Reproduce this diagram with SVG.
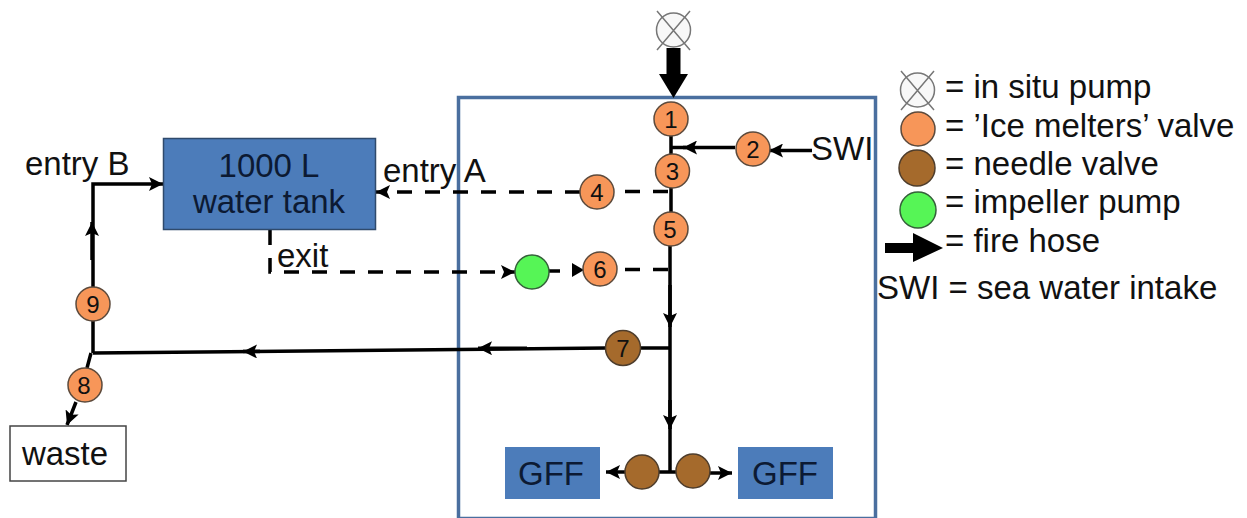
<svg xmlns="http://www.w3.org/2000/svg" width="1247" height="518" viewBox="0 0 1247 518">
<style>
text{font-family:"Liberation Sans",Arial,sans-serif;fill:#111;font-size:33px}
.n{font-size:24px;text-anchor:middle}
.c{text-anchor:middle}
.d{fill:#0c1a33}
.or{fill:#f79659;stroke:#5c4a3c;stroke-width:1.5}
.br{fill:#a56a2c;stroke:#4e3d2c;stroke-width:1.5}
.gr{fill:#56f556;stroke:#35603a;stroke-width:1.5}
.bl{fill:#4c7cba}
.pipe{fill:none;stroke:#000;stroke-width:3.5}
.dash{stroke-dasharray:15 13}
.pump{fill:#f8f8f8;stroke:#777;stroke-width:1.5}
.x{stroke:#777;stroke-width:1.5;fill:none}
</style>
<defs>
<marker id="a" markerUnits="userSpaceOnUse" markerWidth="16" markerHeight="14" refX="14" refY="7" orient="auto"><path d="M0 0L14 7L0 14L3 7Z" fill="#000"/></marker>
</defs>
<rect id="container" x="458.500" y="97.500" width="417" height="421" fill="none" stroke="#4a6f9f" stroke-width="3.500"/>
<g id="connectors">
<path d="M673.500 48V75" fill="none" stroke="#000" stroke-width="14"/>
<path d="M659 74H688L673.500 98Z" fill="#000"/>
<path class="pipe" d="M671 136V212M670 246V472"/>
<path class="pipe" d="M735 147.500H683" marker-end="url(#a)"/>
<path class="pipe" d="M812 150.500H769" marker-end="url(#a)"/>
<path class="pipe" d="M686 147.500H672"/>
<path class="pipe" d="M670 285V327" marker-end="url(#a)"/>
<path class="pipe" d="M670 400V429" marker-end="url(#a)"/>
<path class="pipe dash" d="M668 191.500H614"/>
<path class="pipe dash" d="M580 192H376" marker-end="url(#a)"/>
<path class="pipe dash" d="M270 230V272H515" marker-end="url(#a)"/>
<path class="pipe" d="M549 271H560"/>
<path d="M572 263L584 270L572 277Z" fill="#000"/>
<path class="pipe dash" d="M668 269.500H617"/>
<path class="pipe" d="M670 348H640"/>
<path class="pipe" d="M606 348L93 353"/>
<path class="pipe" d="M527 348.200H478" marker-end="url(#a)"/>
<path class="pipe" d="M260 351.400H243" marker-end="url(#a)"/>
<path class="pipe" d="M93 353V321M93 287V184H163" marker-end="url(#a)"/>
<path class="pipe" d="M92 260V222" marker-end="url(#a)"/>
<path class="pipe" d="M91 353L87 368M76 402L67 425" marker-end="url(#a)"/>
<path class="pipe" d="M626 472H606" marker-end="url(#a)"/>
<path class="pipe" d="M709 473H732" marker-end="url(#a)"/>
<path class="pipe" d="M659 472H677"/>
</g>
<g id="pump-top"><circle class="pump" cx="673.500" cy="30" r="17"/><path class="x" d="M657 11L690 50M690 11L657 50"/></g>
<g id="v1"><circle class="or" cx="671" cy="119" r="17"/><text class="n" x="671" y="128">1</text></g>
<g id="v2"><circle class="or" cx="753" cy="149" r="17"/><text class="n" x="753" y="158">2</text></g>
<g id="v3"><circle class="or" cx="672.500" cy="171" r="17"/><text class="n" x="672.500" y="180">3</text></g>
<g id="v4"><circle class="or" cx="597" cy="192" r="17"/><text class="n" x="597" y="201">4</text></g>
<g id="v5"><circle class="or" cx="671" cy="229" r="17"/><text class="n" x="670" y="238">5</text></g>
<g id="v6"><circle class="or" cx="600" cy="269" r="17"/><text class="n" x="600" y="278">6</text></g>
<g id="impeller"><circle class="gr" cx="532" cy="272" r="17"/></g>
<g id="v7"><circle class="br" cx="623" cy="348" r="17.500"/><text class="n" x="623" y="357">7</text></g>
<g id="v8"><circle class="or" cx="85" cy="385" r="17"/><text class="n" x="84" y="394">8</text></g>
<g id="v9"><circle class="or" cx="93" cy="304" r="17"/><text class="n" x="93" y="313">9</text></g>
<g id="needle-l"><circle class="br" cx="642" cy="472" r="17"/></g>
<g id="needle-r"><circle class="br" cx="693" cy="471" r="17"/></g>
<g id="tank"><rect class="bl" x="163.500" y="138.500" width="212" height="91" stroke="#2f4a6c" stroke-width="1.500"/><text class="c d" x="269" y="177">1000 L</text><text class="c d" x="269" y="213">water tank</text></g>
<g id="waste"><rect x="10" y="426" width="116" height="55" fill="#fff" stroke="#444" stroke-width="1.500"/><text class="c" x="65" y="465">waste</text></g>
<g id="gff-l"><rect class="bl" x="505" y="447" width="95" height="52"/><text class="c d" x="551" y="485">GFF</text></g>
<g id="gff-r"><rect class="bl" x="738" y="447" width="95" height="52"/><text class="c d" x="785" y="485">GFF</text></g>
<text x="25" y="175">entry B</text>
<text x="383" y="182">entry A</text>
<text x="277" y="267">exit</text>
<text x="811" y="160">SWI</text>
<g id="legend">
<circle class="pump" cx="917.500" cy="90" r="17"/><path class="x" d="M901 71L934 110M934 71L901 110"/>
<circle class="or" cx="918" cy="129" r="17"/>
<circle class="br" cx="917" cy="168" r="18"/>
<circle class="gr" cx="918" cy="210" r="18"/>
<path d="M885 243H913V233L943 248L913 262V253H885Z" fill="#000"/>
<text x="945" y="98">= in situ pump</text>
<text x="945" y="137">= ’Ice melters’ valve</text>
<text x="945" y="175">= needle valve</text>
<text x="945" y="213">= impeller pump</text>
<text x="945" y="252">= fire hose</text>
<text x="877" y="299">SWI = sea water intake</text>
</g>
</svg>
